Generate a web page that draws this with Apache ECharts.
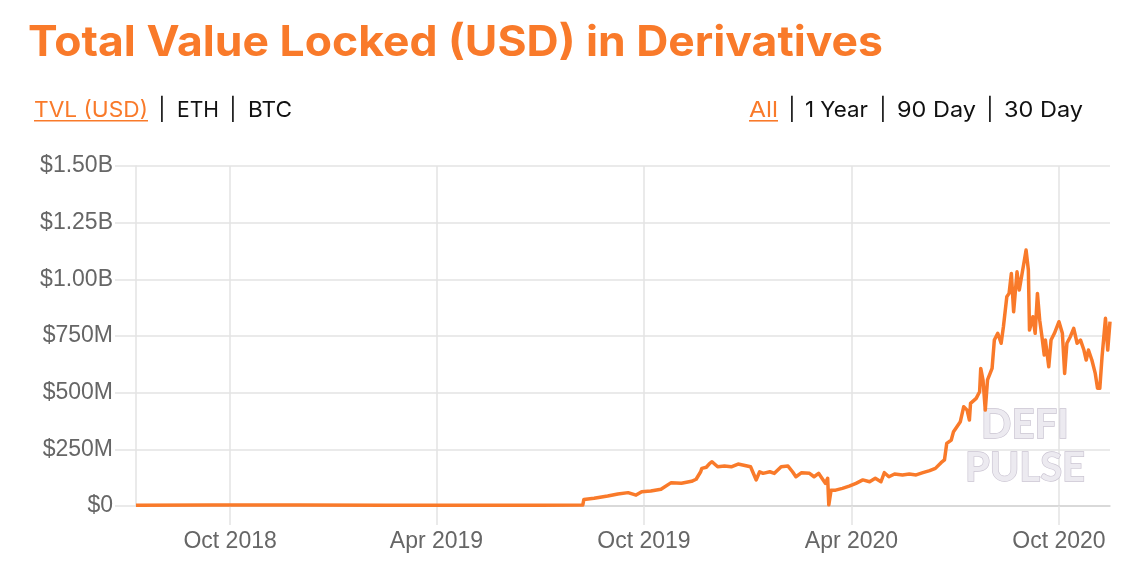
<!DOCTYPE html>
<html>
<head>
<meta charset="utf-8">
<script src="https://cdn.jsdelivr.net/npm/echarts@6/dist/echarts.min.js"></script>
<style>
html,body{margin:0;padding:0;background:#fff;}
#chart{width:1140px;height:570px;}
</style>
</head>
<body>
<div id="chart"></div>
<script>
// ---- data (values in millions USD) ----
const startDate = '2018-07-10';
const endDate = '2020-11-15';
const pointDates = [
'2018-07-10','2018-09-15','2018-12-01','2019-02-15','2019-05-01','2019-07-01','2019-08-08',
'2019-08-09','2019-08-18','2019-08-30','2019-09-08','2019-09-17','2019-09-24','2019-09-29',
'2019-10-07','2019-10-16','2019-10-25','2019-11-03','2019-11-12','2019-11-16','2019-11-20',
'2019-11-21','2019-11-25','2019-11-28','2019-11-30','2019-12-05','2019-12-11','2019-12-17','2019-12-23',
'2019-12-24','2019-12-28','2020-01-03','2020-01-08','2020-01-11','2020-01-14','2020-01-20','2020-01-24',
'2020-01-30','2020-02-05','2020-02-09','2020-02-12','2020-02-17','2020-02-24','2020-02-28',
'2020-03-03','2020-03-07','2020-03-09','2020-03-11','2020-03-12','2020-03-14','2020-03-18',
'2020-03-24','2020-03-30','2020-04-05','2020-04-11','2020-04-17','2020-04-22','2020-04-27',
'2020-04-30','2020-05-04','2020-05-09','2020-05-16','2020-05-22','2020-05-28','2020-06-03',
'2020-06-09','2020-06-14','2020-06-19','2020-06-22','2020-06-24','2020-06-28','2020-06-30',
'2020-07-03','2020-07-06','2020-07-09','2020-07-12','2020-07-14','2020-07-15','2020-07-20',
'2020-07-23','2020-07-24','2020-07-26','2020-07-28','2020-07-30','2020-08-03','2020-08-05',
'2020-08-08','2020-08-11','2020-08-13','2020-08-16','2020-08-18','2020-08-20','2020-08-22',
'2020-08-25','2020-08-27','2020-08-30','2020-08-31','2020-09-02','2020-09-04','2020-09-05',
'2020-09-08','2020-09-10','2020-09-12','2020-09-14','2020-09-16','2020-09-18','2020-09-19',
'2020-09-22','2020-09-24','2020-09-27','2020-10-01','2020-10-04','2020-10-06','2020-10-08',
'2020-10-11','2020-10-14','2020-10-17','2020-10-20','2020-10-23','2020-10-25','2020-10-27',
'2020-10-30','2020-11-02','2020-11-04','2020-11-06','2020-11-08','2020-11-11','2020-11-13',
'2020-11-15'
];
const tvlValues = [
3,4,4,3,3,3,4,
29,34,44,53,59,48,63,
66,74,103,100,109,118,151,
166,171,188,195,173,176,173,185,
191,180,173,115,151,144,151,144,
173,176,151,129,147,144,129,
144,115,100,122,5,70,70,
78,88,100,115,107,122,107,
147,129,141,137,141,137,147,
156,166,191,203,276,291,328,
350,372,438,423,379,453,475,
504,607,556,423,556,607,732,
762,718,791,923,938,1026,857,
1033,953,1041,1070,1129,1041,776,
835,762,938,820,747,666,732,
614,732,762,813,762,585,718,
747,784,718,732,688,644,688,
644,585,519,519,659,828,688,
813
];
const yTicks = [0,250,500,750,1000,1250,1500];
const yTickLabels = ['$0','$250M','$500M','$750M','$1.00B','$1.25B','$1.50B'];
const monthNames = ['Jan','Feb','Mar','Apr','May','Jun','Jul','Aug','Sep','Oct','Nov','Dec'];

// ---- build daily category axis ----
const categories = [];
{
  let t = Date.parse(startDate + 'T00:00:00Z');
  const tEnd = Date.parse(endDate + 'T00:00:00Z');
  while (t <= tEnd) {
    categories.push(new Date(t).toISOString().slice(0,10));
    t += 86400000;
  }
}
const valueByDate = {};
pointDates.forEach((d,i)=>{ valueByDate[d] = tvlValues[i]; });
const seriesData = categories.map(c => (c in valueByDate) ? valueByDate[c] : null);

const isMajor = (idx, val) => /-(10|04)-01$/.test(val);
const ORANGE = '#f97a2a';
const GRID = '#e3e3e3';
const ROWFONT = '22px Inter, Lato, sans-serif';
const TITLEFONT = 'bold 42px Inter, Lato, sans-serif';

// layout helper: horizontal scale so a text spans a given width
const mctx = document.createElement('canvas').getContext('2d');
function fitText(text, font, x, y, width, fill) {
  mctx.font = font;
  const w = mctx.measureText(text).width || width;
  const s = width / w;
  return { type: 'text', z: 10, x: x, y: y, scaleX: s, originX: 0, originY: 0,
    style: { text: text, x: 0, y: 0, font: font, fill: fill, textVerticalAlign: 'middle' } };
}
function bar(x, y) {
  return { type: 'text', z: 10, style: { text: '|', x: x, y: y, font: ROWFONT, fill: '#111', textAlign: 'center', textVerticalAlign: 'middle' } };
}

const chart = echarts.init(document.getElementById('chart'));
chart.setOption({
  animation: false,
  backgroundColor: '#fff',
  grid: { left: 136, right: 30, top: 166, bottom: 64, containLabel: false },
  xAxis: {
    type: 'category',
    data: categories,
    boundaryGap: false,
    axisLine: { show: true, lineStyle: { color: '#d4d4d4', width: 1.5 } },
    axisTick: { show: true, interval: isMajor, length: 19, lineStyle: { color: GRID, width: 1.5 } },
    splitLine: { show: true, interval: isMajor, lineStyle: { color: GRID, width: 1.5 } },
    axisLabel: {
      interval: isMajor,
      margin: 24,
      color: '#666',
      fontFamily: '"Liberation Sans", Arial, sans-serif',
      fontSize: 23,
      formatter: v => monthNames[parseInt(v.slice(5,7),10)-1] + ' ' + v.slice(0,4)
    }
  },
  yAxis: {
    type: 'value',
    min: 0, max: 1500, interval: 250,
    axisLine: { show: true, lineStyle: { color: GRID, width: 1.5 } },
    axisTick: { show: true, length: 21, lineStyle: { color: GRID, width: 1.5 } },
    splitLine: { show: true, lineStyle: { color: GRID, width: 1.5 } },
    axisLabel: {
      margin: 23,
      color: '#666',
      fontFamily: '"Liberation Sans", Arial, sans-serif',
      fontSize: 23,
      formatter: v => yTickLabels[yTicks.indexOf(v)]
    }
  },
  series: [{
    type: 'line',
    data: seriesData,
    connectNulls: true,
    showSymbol: false,
    symbol: 'none',
    z: 5,
    lineStyle: { color: ORANGE, width: 3.5, join: 'round' }
  }],
  graphic: [
    fitText('Total Value Locked (USD) in Derivatives', TITLEFONT, 28, 43, 855, ORANGE),
    // left selector row
    fitText('TVL (USD)', ROWFONT, 34, 110, 114, ORANGE),
    { type: 'rect', z: 10, shape: { x: 34, y: 120, width: 114, height: 1.6 }, style: { fill: ORANGE } },
    bar(162, 110),
    fitText('ETH', ROWFONT, 177, 110, 42, '#111'),
    bar(233, 110),
    fitText('BTC', ROWFONT, 248, 110, 44, '#111'),
    // right selector row
    fitText('All', ROWFONT, 749, 110, 29, ORANGE),
    { type: 'rect', z: 10, shape: { x: 749, y: 120, width: 29, height: 1.6 }, style: { fill: ORANGE } },
    bar(792, 110),
    fitText('1 Year', ROWFONT, 805, 110, 63, '#111'),
    bar(883, 110),
    fitText('90 Day', ROWFONT, 897, 110, 79, '#111'),
    bar(990, 110),
    fitText('30 Day', ROWFONT, 1004, 110, 79, '#111'),
    // watermark
    { type: 'text', z: 1, style: { text: 'DEFI', x: 1025, y: 425, font: 'bold 40px Lato, sans-serif',
      fill: '#eceaf0', stroke: '#c9c3d1', lineWidth: 1.3, textAlign: 'center', textVerticalAlign: 'middle' } },
    { type: 'text', z: 1, style: { text: 'PULSE', x: 1025, y: 468, font: 'bold 40px Lato, sans-serif',
      fill: '#eceaf0', stroke: '#c9c3d1', lineWidth: 1.3, textAlign: 'center', textVerticalAlign: 'middle' } }
  ]
});
</script>
</body>
</html>
